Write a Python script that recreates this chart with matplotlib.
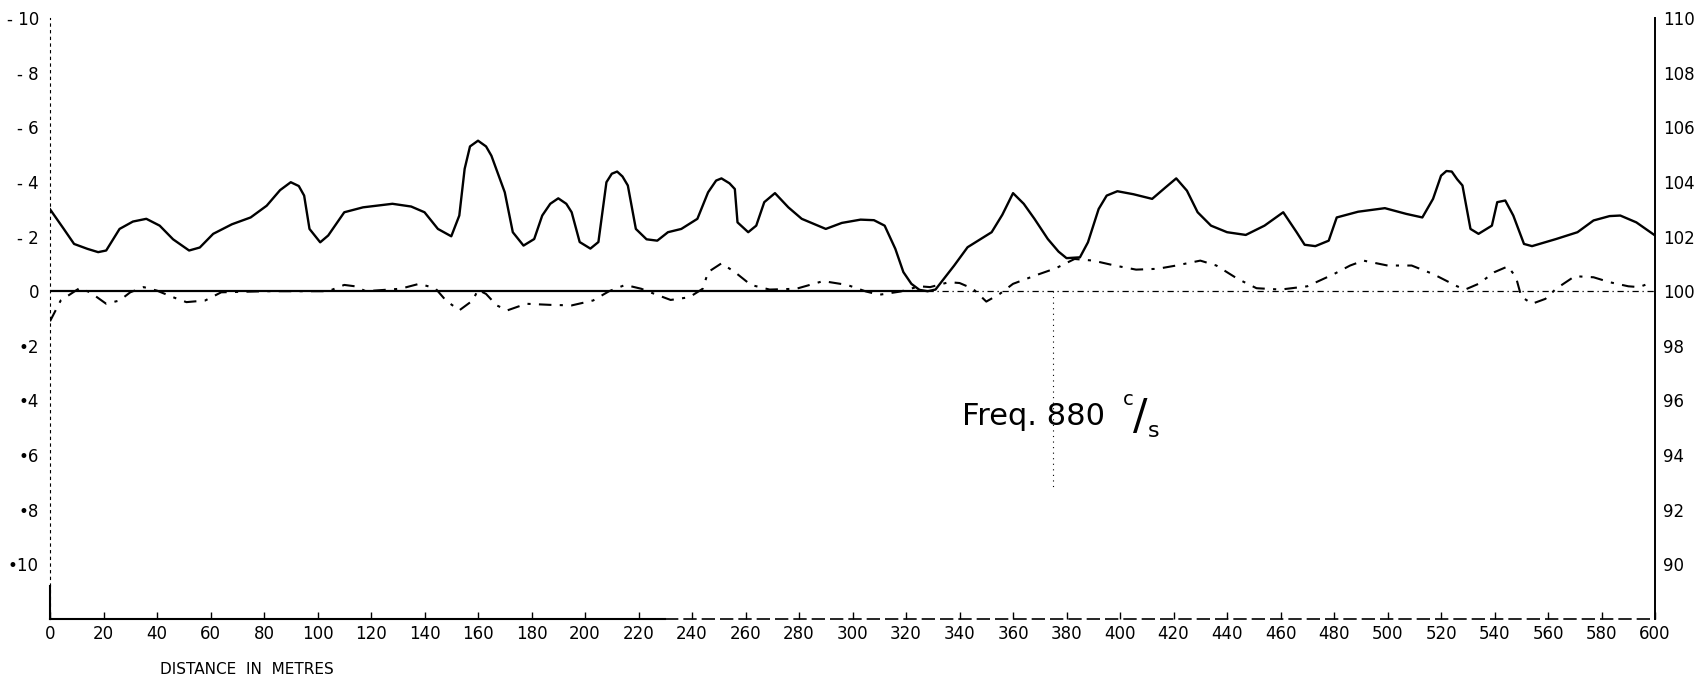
import matplotlib.pyplot as plt

# solid curve (left scale, negative values plotted upwards)
solid_x = [0, 5, 9, 14, 18, 21, 26, 31, 36, 41, 46, 52, 56, 61, 68, 75, 81, 86, 90, 93, 95,
           97, 101, 104, 110, 117, 128, 135, 140, 145, 150, 153, 155, 157, 160, 163, 165,
           170, 173, 177, 181, 184, 187, 190, 193, 195, 198, 202, 205, 208, 210, 212, 214,
           216, 219, 223, 227, 231, 236, 242, 246, 249, 251, 254, 256, 257, 261, 264, 267,
           271, 276, 281, 290, 296, 303, 308, 312, 316, 319, 322, 325, 328, 331, 338, 343,
           352, 356, 360, 364, 368, 373, 377, 380, 385, 388, 392, 395, 399, 405, 412, 417,
           421, 425, 429, 434, 440, 447, 454, 459, 461, 463, 466, 469, 473, 478, 481, 489,
           499, 507, 513, 517, 520, 522, 524, 526, 528, 531, 534, 539, 541, 544, 547, 551,
           554, 563, 571, 577, 583, 587, 593, 600]
solid_y = [-3.0, -2.3, -1.73, -1.55, -1.43, -1.49, -2.28, -2.55, -2.65, -2.4, -1.9, -1.49,
           -1.6, -2.1, -2.45, -2.7, -3.13, -3.7, -3.99, -3.85, -3.5, -2.28, -1.79, -2.04,
           -2.89, -3.07, -3.2, -3.1, -2.89, -2.28, -2.01, -2.77, -4.48, -5.3, -5.51, -5.3,
           -4.96, -3.62, -2.16, -1.67, -1.91, -2.77, -3.2, -3.4, -3.2, -2.89, -1.8, -1.56,
           -1.8, -3.99, -4.3, -4.38, -4.2, -3.87, -2.28, -1.9, -1.85, -2.16, -2.28, -2.65,
           -3.62, -4.05, -4.13, -3.95, -3.74, -2.52, -2.16, -2.4, -3.26, -3.59, -3.07, -2.65,
           -2.28, -2.5, -2.62, -2.6, -2.4, -1.55, -0.7, -0.27, -0.05, 0.0, -0.06, -0.94,
           -1.61, -2.16, -2.8, -3.59, -3.2, -2.65, -1.91, -1.45, -1.21, -1.24, -1.79, -3.01,
           -3.5, -3.66, -3.55, -3.38, -3.8, -4.13, -3.68, -2.89, -2.4, -2.16, -2.06, -2.4,
           -2.75, -2.89, -2.6, -2.16, -1.7, -1.65, -1.85, -2.7, -2.91, -3.04, -2.83, -2.7,
           -3.38, -4.23, -4.4, -4.38, -4.1, -3.87, -2.28, -2.1, -2.4, -3.26, -3.32, -2.77,
           -1.73, -1.65, -1.91, -2.16, -2.59, -2.75, -2.77, -2.52, -2.04]

# dash-dot curve
dash_x = [0, 4, 11, 15, 21, 26, 30, 35, 40, 46, 51, 58, 64, 81, 104, 110, 114, 118, 131,
          138, 144, 148, 153, 158, 160, 163, 167, 171, 178, 187, 195, 203, 209, 215, 221,
          226, 232, 239, 244, 246, 251, 256, 262, 269, 279, 289, 298, 305, 310, 318, 325,
          329, 336, 340, 345, 350, 355, 360, 369, 376, 383, 390, 398, 406, 414, 421, 430,
          436, 444, 451, 460, 470, 480, 486, 491, 500, 509, 517, 526, 529, 534, 540, 545,
          548, 550, 554, 559, 563, 570, 577, 583, 590, 594, 599]
dash_y = [1.1, 0.34, -0.11, 0.04, 0.46, 0.34, 0.04, -0.15, -0.02, 0.22, 0.4, 0.34, 0.04,
          0.0, 0.0, -0.23, -0.18, 0.0, -0.09, -0.27, -0.11, 0.34, 0.7, 0.34, -0.05, 0.1,
          0.52, 0.7, 0.46, 0.5, 0.52, 0.34, 0.0, -0.23, -0.09, 0.1, 0.32, 0.22, -0.09,
          -0.7, -1.02, -0.7, -0.23, -0.06, -0.09, -0.37, -0.23, 0.01, 0.13, 0.01, -0.18,
          -0.15, -0.33, -0.3, -0.09, 0.38, 0.1, -0.27, -0.6, -0.84, -1.18, -1.12, -0.94,
          -0.79, -0.82, -0.94, -1.12, -0.94, -0.45, -0.11, -0.06, -0.18, -0.63, -0.94,
          -1.12, -0.94, -0.94, -0.63, -0.18, -0.06, -0.27, -0.7, -0.91, -0.51, 0.2, 0.46,
          0.28, -0.09, -0.55, -0.51, -0.33, -0.18, -0.15, -0.33]

x_ticks = list(range(0, 601, 20))
left_ticks = [-10, -8, -6, -4, -2, 0, 2, 4, 6, 8, 10]
left_labels = ["- 10", "- 8", "- 6", "- 4", "- 2", "0", "•2", "•4", "•6", "•8", "•10"]
right_ticks = [90, 92, 94, 96, 98, 100, 102, 104, 106, 108, 110]
marker_x = 375

fig = plt.figure(figsize=(17.01, 6.78), dpi=100)
ax = fig.add_axes([0.0294, 0.087, 0.9436, 0.8864])

ax.plot(solid_x, solid_y, color="black", linewidth=1.7, solid_joinstyle="round")
ax.plot(dash_x, dash_y, color="black", linewidth=1.5, linestyle=(0, (6, 4, 1.5, 4)))

# zero line: solid on the left, broken on the right
ax.plot([0, 328], [0, 0], color="black", linewidth=1.6)
ax.plot([328, 600], [0, 0], color="black", linewidth=0.9, linestyle=(0, (5, 3, 1, 3)))

# marker line under the 380 m point
ax.plot([marker_x, marker_x], [0, 7.2], color="black", linewidth=0.8, linestyle=(0, (1, 4)))

ax.text(341, 4.6, "Freq. 880", fontsize=22, va="center", ha="left")
ax.text(403, 3.95, "c", fontsize=14, va="center", ha="center")
ax.text(407.5, 4.6, "/", fontsize=31, va="center", ha="center")
ax.text(412.5, 5.1, "s", fontsize=16, va="center", ha="center")

ax.set_xlim(0, 600)
ax.set_ylim(12, -10)

ax.spines["top"].set_visible(False)
ax.spines["right"].set_visible(False)
ax.spines["bottom"].set_visible(False)
ax.spines["left"].set_linestyle((0, (2, 4)))
ax.spines["left"].set_linewidth(0.8)

# bottom axis drawn solid then broken
ax.plot([0, 230], [12, 12], color="black", linewidth=1.5, clip_on=False)
ax.plot([230, 600], [12, 12], color="black", linewidth=1.2, linestyle=(0, (8, 3)), clip_on=False)
ax.plot([0, 0], [10.8, 12], color="black", linewidth=1.5, clip_on=False)

ax.set_xticks(x_ticks)
ax.set_xticklabels([str(v) for v in x_ticks])
ax.tick_params(axis="x", direction="in", length=5, width=1.0, labelsize=12, pad=4)

ax.set_yticks(left_ticks)
ax.set_yticklabels(left_labels)
ax.tick_params(axis="y", direction="out", length=0, labelsize=12, pad=8)

ax2 = ax.twinx()
ax2.set_ylim(88, 110)
ax2.set_yticks(right_ticks)
ax2.set_yticklabels([str(v) for v in right_ticks])
ax2.tick_params(axis="y", direction="out", length=0, labelsize=12, pad=6)
for side in ["top", "left", "bottom"]:
    ax2.spines[side].set_visible(False)
ax2.spines["right"].set_linewidth(1.4)

fig.text(160 / 1701, 1 - 669 / 678, "DISTANCE  IN  METRES", fontsize=11, va="center", ha="left")

fig.savefig("out.png", dpi=100)
